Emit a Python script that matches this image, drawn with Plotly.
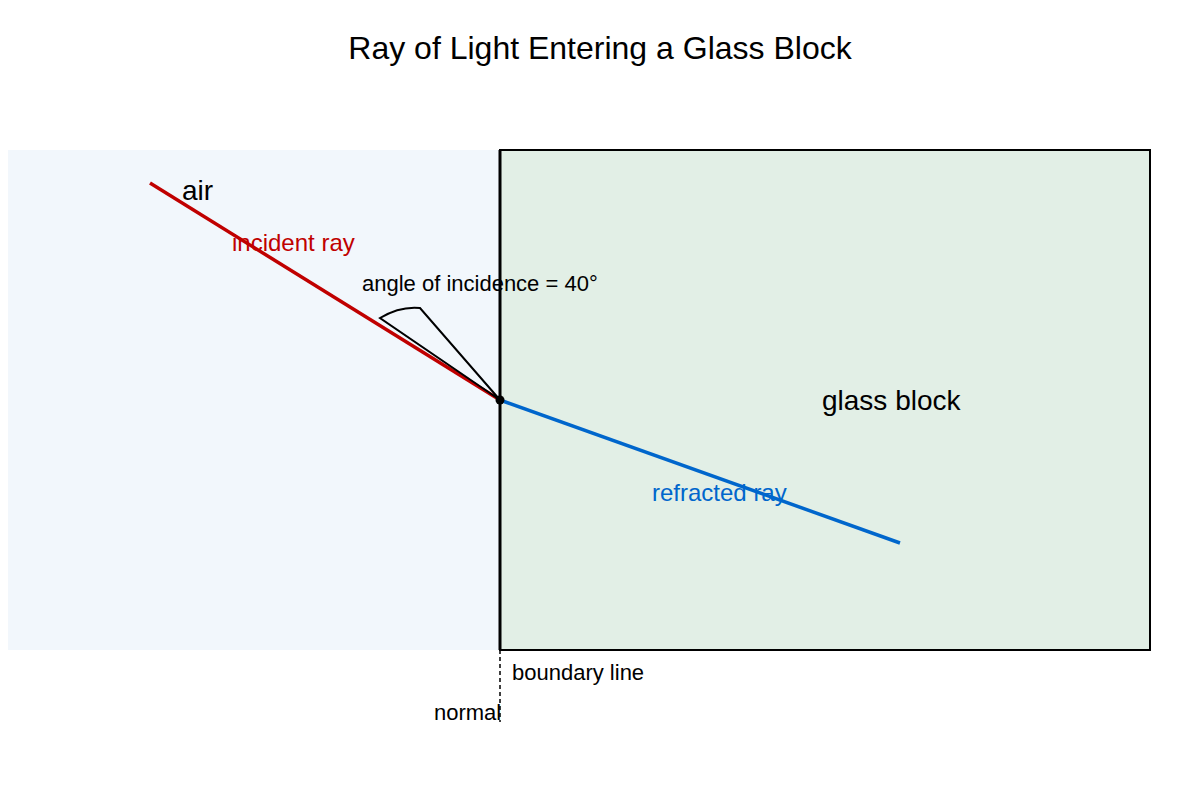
import plotly.graph_objects as go

# scene geometry, in picture units (x right, y down)
air_box = [0, 150, 500, 650]
glass_box = [500, 150, 1150, 650]
hit_point = [500, 400]
incident_x = [150, 500]
incident_y = [183, 400]
refracted_x = [500, 900]
refracted_y = [400, 543]
normal_x = [500, 500]
normal_y = [650, 722]
wedge_ends = [[380, 318], [420, 308]]

labels = [
    ("air", 180, 190, 28, "black", "left"),
    ("incident ray", 230, 242, 24, "#c00000", "left"),
    ("angle of incidence = 40°", 360, 283, 22, "black", "left"),
    ("glass block", 820, 400, 28, "black", "left"),
    ("refracted ray", 650, 492, 24, "#0066cc", "left"),
    ("boundary line", 510, 672, 22, "black", "left"),
    ("normal", 503, 712, 22, "black", "right"),
]

FONT = "Liberation Sans, Arial"
OFFSET = 8  # page margin of the browser

fig = go.Figure()

fig.add_shape(type="rect", x0=air_box[0], y0=air_box[1], x1=air_box[2], y1=air_box[3],
              fillcolor="#f2f7fc", line=dict(width=0), layer="below")
fig.add_shape(type="rect", x0=glass_box[0], y0=glass_box[1], x1=glass_box[2], y1=glass_box[3],
              fillcolor="#e2efe6", line=dict(color="black", width=2), layer="below")
fig.add_shape(type="line", x0=glass_box[0], y0=glass_box[1], x1=glass_box[0], y1=glass_box[3],
              line=dict(color="black", width=3))

# normal (dashed)
fig.add_trace(go.Scatter(x=normal_x, y=normal_y, mode="lines",
                         line=dict(color="black", width=1.5, dash="4px,3px")))

# angle wedge
(ax, ay), (bx, by) = wedge_ends
fig.add_shape(type="path",
              path=f"M {ax},{ay} Q {(ax + bx) / 2},{by - 2} {bx},{by} L {hit_point[0]},{hit_point[1]} Z",
              line=dict(color="black", width=2))

fig.add_trace(go.Scatter(x=incident_x, y=incident_y, mode="lines",
                         line=dict(color="#c00000", width=3.5)))
fig.add_trace(go.Scatter(x=refracted_x, y=refracted_y, mode="lines",
                         line=dict(color="#0066cc", width=3.5)))
fig.add_trace(go.Scatter(x=[hit_point[0]], y=[hit_point[1]], mode="markers",
                         marker=dict(color="black", size=9)))

for text, x, y, size, color, anchor in labels:
    fig.add_annotation(x=x, y=y, text=text, showarrow=False, xanchor=anchor, yanchor="middle",
                       font=dict(size=size, color=color, family=FONT))

fig.update_layout(
    width=1200, height=800,
    margin=dict(l=0, r=0, t=0, b=0),
    paper_bgcolor="white", plot_bgcolor="white",
    showlegend=False,
    title=dict(text="Ray of Light Entering a Glass Block", x=0.5 - OFFSET / 1200, y=1 - 40 / 800,
               xanchor="center", yanchor="middle",
               font=dict(size=32, color="black", family=FONT)),
    xaxis=dict(range=[OFFSET, 1200 + OFFSET], visible=False, fixedrange=True),
    yaxis=dict(range=[800 + OFFSET, OFFSET], visible=False, fixedrange=True),
)

fig.write_html("out.html")
